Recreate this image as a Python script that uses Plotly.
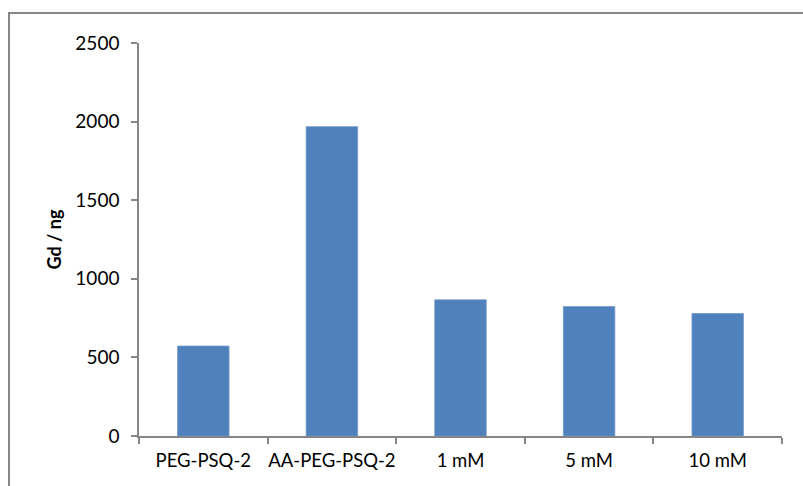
import plotly.graph_objects as go

categories = ["PEG-PSQ-2", "AA-PEG-PSQ-2", "1 mM", "5 mM", "10 mM"]
gd_ng = [572, 1968, 866, 823, 779]
y_ticks = [0, 500, 1000, 1500, 2000, 2500]

W, H = 803, 486
L, R, T, B = 139, 782, 43, 436
pw, ph = R - L, B - T

fig = go.Figure(go.Bar(
    x=categories, y=gd_ng, width=0.4,
    marker=dict(color="#4F81BD", line=dict(color="#6E95C8", width=0.8)),
))

axis_col = "#868686"
fam = "Lato, Open Sans, sans-serif"
font = dict(family=fam, size=19, color="#000000")

fig.update_layout(
    width=W, height=H,
    margin=dict(l=L, r=W - R, t=T, b=H - B, pad=0, autoexpand=False),
    paper_bgcolor="white", plot_bgcolor="white",
    showlegend=False, bargap=0.6,
    font=font,
    xaxis=dict(
        showline=True, linecolor=axis_col, linewidth=1.5,
        ticks="outside", ticklen=6, tickcolor=axis_col, tickwidth=1.5,
        tickson="boundaries", showgrid=False, zeroline=False,
        tickfont=dict(family=fam, size=18.5, color="#000"), tickangle=0,
        automargin=False, ticklabelstandoff=7,
    ),
    yaxis=dict(
        range=[0, 2500], tickvals=y_ticks, ticktext=[str(v) for v in y_ticks],
        showline=True, linecolor=axis_col, linewidth=1.5,
        ticks="outside", ticklen=6, tickcolor=axis_col, tickwidth=1.5,
        showgrid=False, zeroline=False, ticklabelstandoff=8,
        tickfont=font, automargin=False,
        title=dict(text="<b>Gd / ng</b>",
                   font=dict(family=fam, size=18, color="#000"),
                   standoff=9),
    ),
)

# outer chart border (left and top visible, rest clipped by the image)
fig.add_shape(
    type="rect", xref="paper", yref="paper",
    x0=(9 - L) / pw, x1=(812 - L) / pw,
    y0=(B - 496) / ph, y1=(B - 13) / ph,
    line=dict(color=axis_col, width=2), fillcolor="rgba(0,0,0,0)", layer="below",
)

fig.write_html(
    "out.html",
    config={"displayModeBar": False},
    post_script="document.body.style.margin='0';document.body.style.overflow='hidden';",
)
